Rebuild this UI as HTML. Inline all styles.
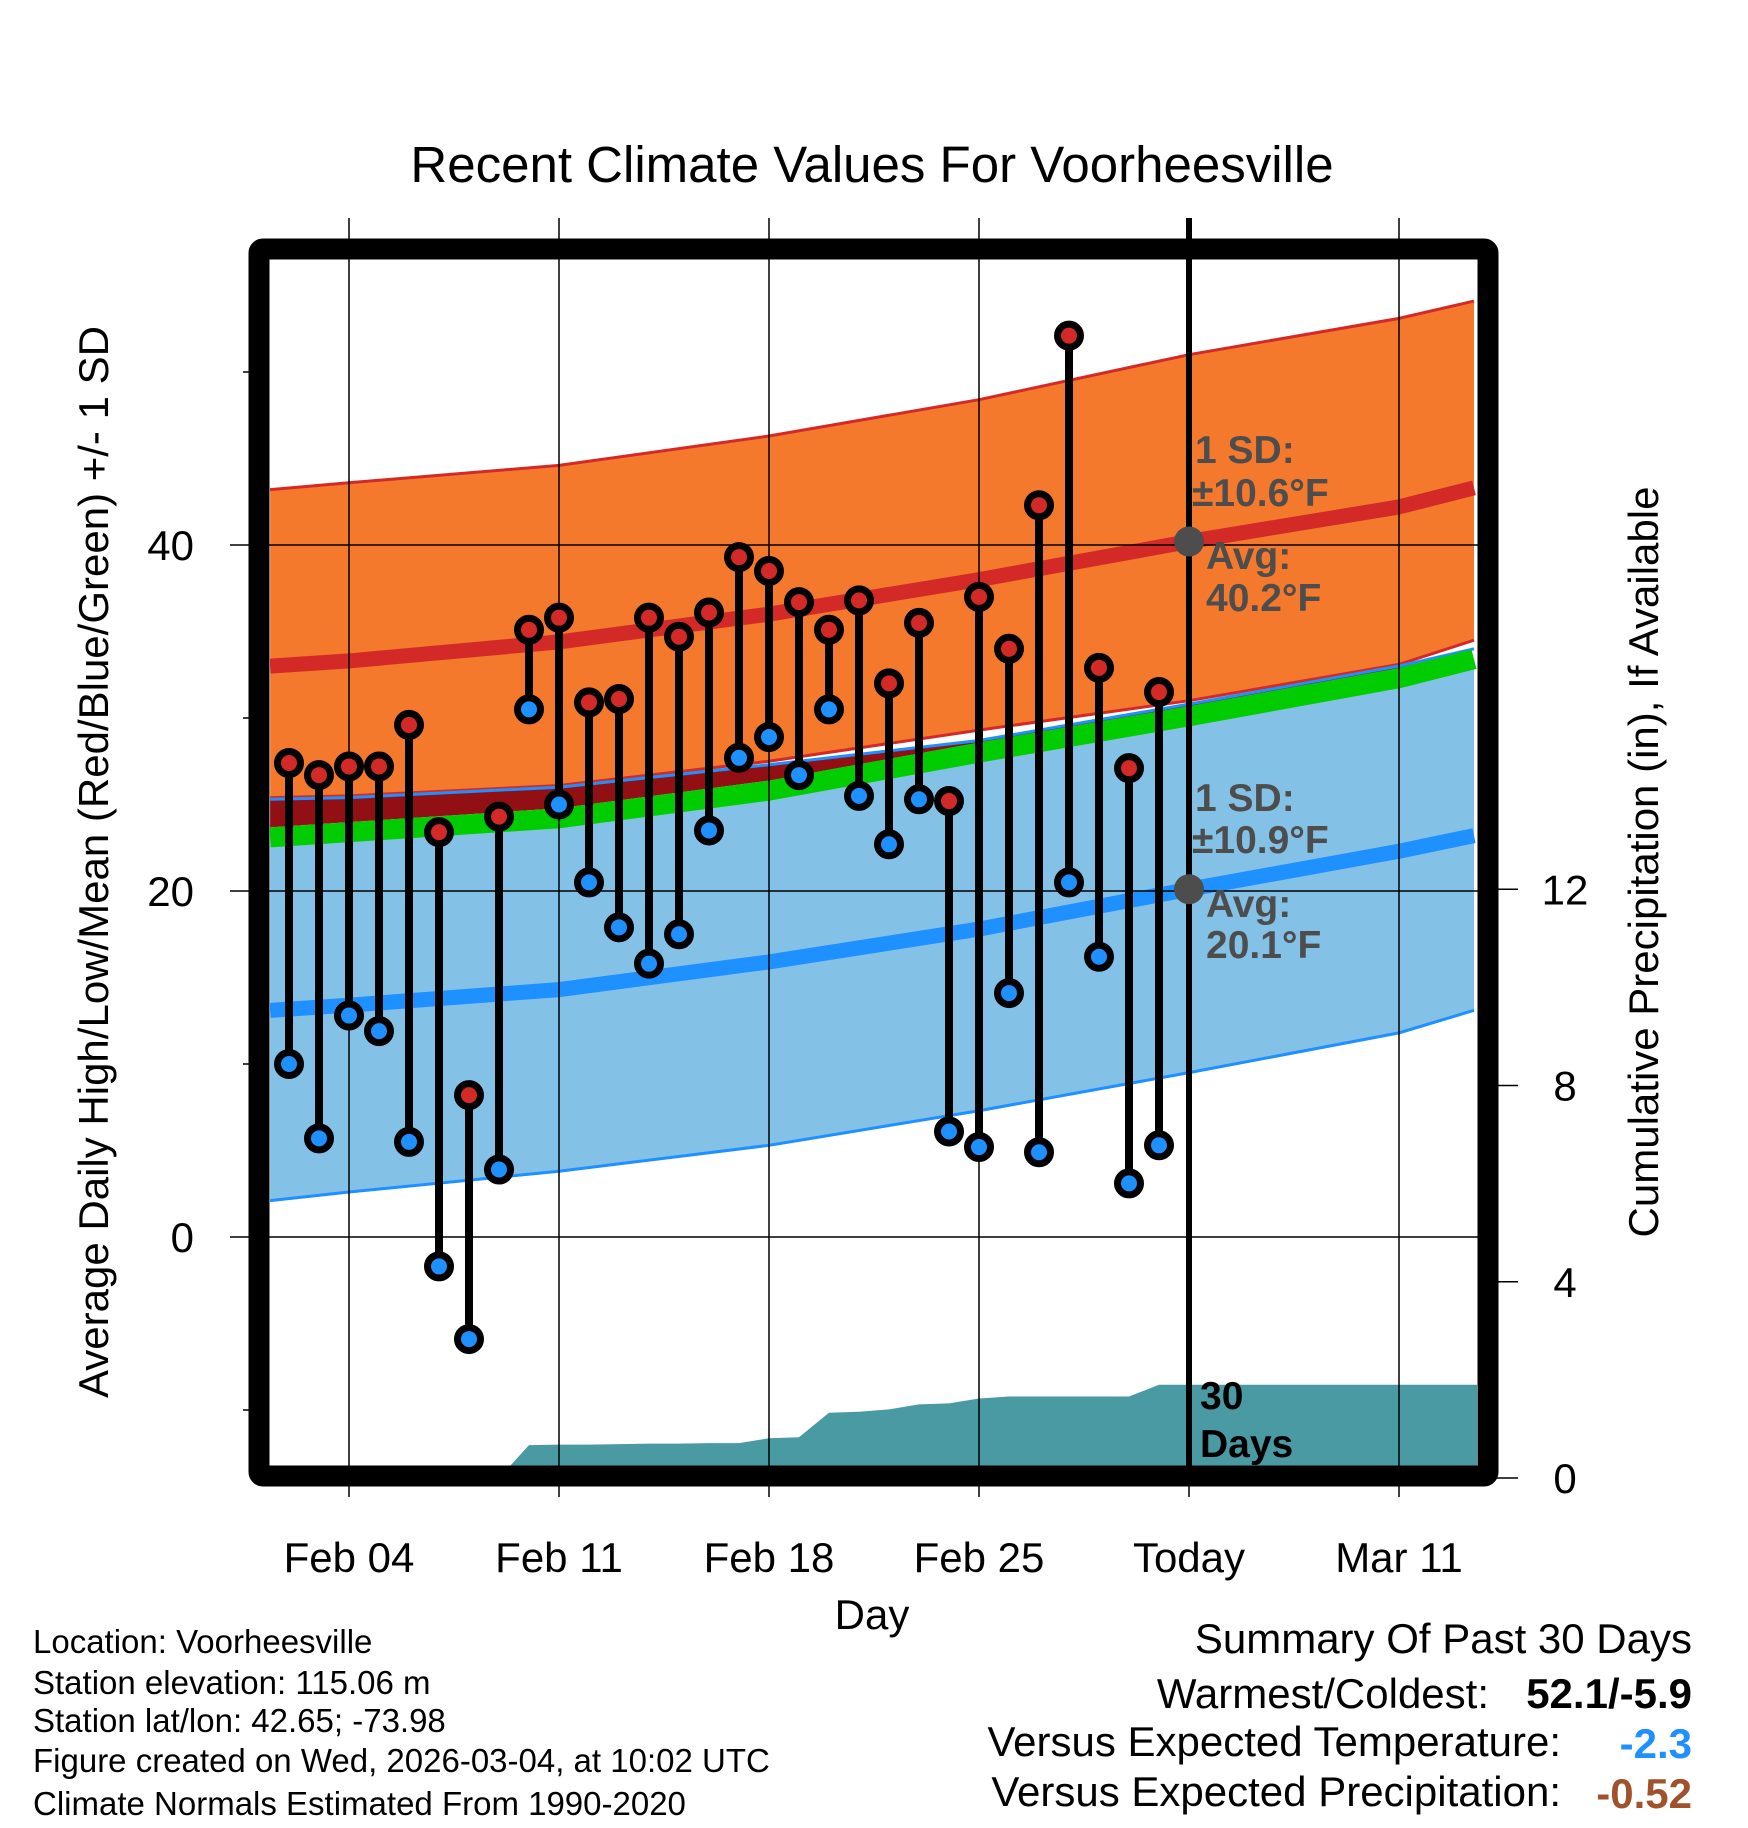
<!DOCTYPE html>
<html><head><meta charset="utf-8">
<style>
html,body{margin:0;padding:0;background:#fff;}
svg{display:block;font-family:"Liberation Sans",Arial,sans-serif;}
</style></head>
<body>
<svg id="chart" width="1748" height="1828" viewBox="0 0 1748 1828" xmlns="http://www.w3.org/2000/svg">
<defs><clipPath id="plotclip"><rect x="270" y="260" width="1208" height="1206"/></clipPath></defs>
<text x="872" y="182" font-size="51" text-anchor="middle">Recent Climate Values For Voorheesville</text>
<g id="plot" clip-path="url(#plotclip)"></g>
<g id="axes"></g>
<rect x="259" y="249" width="1229" height="1227" fill="none" stroke="#000" stroke-width="21" rx="4"/>
<text x="872" y="1629" font-size="42" text-anchor="middle">Day</text>
<text transform="translate(108,862) rotate(-90)" font-size="42" text-anchor="middle">Average Daily High/Low/Mean (Red/Blue/Green) +/- 1 SD</text>
<text transform="translate(1658,862) rotate(-90)" font-size="42" text-anchor="middle">Cumulative Precipitation (in), If Available</text>
<g font-size="33">
<text x="33" y="1653">Location: Voorheesville</text>
<text x="33" y="1694">Station elevation: 115.06 m</text>
<text x="33" y="1732">Station lat/lon: 42.65; -73.98</text>
<text x="33" y="1772">Figure created on Wed, 2026-03-04, at 10:02 UTC</text>
<text x="33" y="1815">Climate Normals Estimated From 1990-2020</text>
</g>
<g font-size="42">
<text x="1692" y="1653" text-anchor="end">Summary Of Past 30 Days</text>
<text x="1489" y="1708" text-anchor="end">Warmest/Coldest:</text>
<text x="1692" y="1708" text-anchor="end" font-weight="bold">52.1/-5.9</text>
<text x="1561" y="1756" text-anchor="end">Versus Expected Temperature:</text>
<text x="1692" y="1758" text-anchor="end" font-weight="bold" fill="#1e90ff">-2.3</text>
<text x="1561" y="1806" text-anchor="end">Versus Expected Precipitation:</text>
<text x="1692" y="1808" text-anchor="end" font-weight="bold" fill="#a0522d">-0.52</text>
</g>
</svg>
<script>
// Data (day offset relative to Feb 04)
const dayOffsets = [-2,-1,0,1,2,3,4,5,6,7,8,9,10,11,12,13,14,15,16,17,18,19,20,21,22,23,24,25,26,27];
const highs = [27.4,26.7,27.2,27.2,29.6,23.4,8.2,24.3,35.1,35.8,30.9,31.1,35.8,34.7,36.1,39.3,38.5,36.7,35.1,36.8,32.0,35.5,25.2,37.0,34.0,42.3,52.1,32.9,27.1,31.5];
const lows = [10.0,5.7,12.8,11.9,5.5,-1.7,-5.9,3.9,30.5,25.0,20.5,17.9,15.8,17.5,23.5,27.7,28.9,26.7,30.5,25.5,22.7,25.3,6.1,5.2,14.1,4.9,20.5,16.2,3.1,5.3];
const precip = [0,0,0,0,0,0,0,0,0.67,0.68,0.68,0.69,0.70,0.70,0.71,0.71,0.81,0.83,1.33,1.35,1.40,1.50,1.52,1.62,1.66,1.66,1.66,1.66,1.66,1.90];
const normDays = [-2.63,0,7,14,21,28,35,37.5];
const highUpper = [43.2,43.6,44.6,46.3,48.4,51.0,53.1,54.1];
const highMean = [33.0,33.3,34.4,36.0,38.0,40.2,42.2,43.3];
const highLower = [25.4,25.5,26.1,27.5,29.3,31.0,33.1,34.5];
const meanAvg = [23.1,23.4,24.2,25.8,28.0,30.1,32.3,33.4];
const lowUpper = [25.3,25.4,26.0,27.3,28.7,30.8,33.0,34.0];
const lowMean = [13.1,13.4,14.3,15.9,17.8,20.1,22.3,23.2];
const lowLower = [2.1,2.6,3.8,5.3,7.3,9.5,11.8,13.1];
const xTickDays = [0,7,14,21,28,35];
const xTickLabels = ["Feb 04","Feb 11","Feb 18","Feb 25","Today","Mar 11"];
const yTicks = [0,20,40];
const yMinor = [-10,10,30,50];
const y2Ticks = [0,4,8,12];
const todayDay = 28;
const todayHigh = 40.2, todayLow = 20.1;

const NS = "http://www.w3.org/2000/svg";
const X = d => 349 + d*30;
const Y = t => 1237 - t*17.3;
const YP = p => 1478 - p*49.06;
const GH = 0.58;
const plot = document.getElementById('plot');
const axes = document.getElementById('axes');
function mk(tag, attrs, parent){const e=document.createElementNS(NS,tag);for(const k in attrs)e.setAttribute(k,attrs[k]);parent.appendChild(e);return e;}
function band(lo, hi, loOff, hiOff){loOff=loOff||0;hiOff=hiOff||0;let pts=[];normDays.forEach((d,i)=>pts.push(X(d)+","+Y(hi[i]+hiOff)));for(let i=normDays.length-1;i>=0;i--)pts.push(X(normDays[i])+","+Y(lo[i]+loOff));return pts.join(" ");}
function line(arr){return normDays.map((d,i)=>X(d)+","+Y(arr[i])).join(" ");}

let e = mk('polygon',{points:band(lowLower,meanAvg),fill:'#84c1e7'},plot);
 
e = mk('polygon',{points:band(meanAvg,lowUpper,GH,0),fill:'#920f14'},plot);
 
e = mk('polygon',{points:band(highLower,highUpper),fill:'#f4792d'},plot);
 
e = mk('polyline',{points:line(highUpper),fill:'none',stroke:'#d42a27','stroke-width':3},plot);
 
e = mk('polyline',{points:line(highLower),fill:'none',stroke:'#d42a27','stroke-width':3},plot);
 
e = mk('polyline',{points:line(lowUpper),fill:'none',stroke:'#1e90ff','stroke-width':3},plot);
 
e = mk('polyline',{points:line(lowLower),fill:'none',stroke:'#1e90ff','stroke-width':3},plot);
 
e = mk('polyline',{points:line(meanAvg),fill:'none',stroke:'#00cc00','stroke-width':20},plot);
 
e = mk('polyline',{points:line(highMean),fill:'none',stroke:'#d42a27','stroke-width':15},plot);
 
e = mk('polyline',{points:line(lowMean),fill:'none',stroke:'#1e90ff','stroke-width':15},plot);
 

let pp = [X(dayOffsets[0])+","+YP(0)];
dayOffsets.forEach((d,i)=>pp.push(X(d)+","+YP(precip[i])));
pp.push(X(37.6)+","+YP(precip[precip.length-1]));
pp.push(X(37.6)+","+YP(0));
e = mk('polygon',{points:pp.join(" "),fill:'#4a9aa3'},plot);
 

xTickDays.forEach((d,i)=>{
  const g = mk('line',{x1:X(d),x2:X(d),y1:218,y2:1497,stroke:'#000','stroke-width':1.5},axes);
   
  const t = mk('text',{x:X(d),y:1572,'font-size':42,'text-anchor':'middle'},axes);
  t.textContent = xTickLabels[i];
   
});
yTicks.forEach(v=>{
  const g = mk('line',{x1:230,x2:1478,y1:Y(v),y2:Y(v),stroke:'#000','stroke-width':1.5},axes);
   
  const t = mk('text',{x:194,y:Y(v)+15,'font-size':42,'text-anchor':'end'},axes);
  t.textContent = v;
   
});
yMinor.forEach(v=>{
  const g = mk('line',{x1:243,x2:260,y1:Y(v),y2:Y(v),stroke:'#000','stroke-width':1.5},axes);
   
});
y2Ticks.forEach(v=>{
  const g = mk('line',{x1:1488,x2:1518,y1:YP(v),y2:YP(v),stroke:'#000','stroke-width':1.5},axes);
   
  const t = mk('text',{x:1565,y:YP(v)+15,'font-size':42,'text-anchor':'middle'},axes);
  t.textContent = v;
   
});
e = mk('line',{x1:X(todayDay),x2:X(todayDay),y1:218,y2:1468,stroke:'#000','stroke-width':6},axes);
 

dayOffsets.forEach((d,i)=>{
  const s = mk('line',{x1:X(d),x2:X(d),y1:Y(highs[i]),y2:Y(lows[i]),stroke:'#000','stroke-width':8},axes);
   
});
dayOffsets.forEach((d,i)=>{
  const h = mk('circle',{cx:X(d),cy:Y(highs[i]),r:11.5,fill:'#d42a27',stroke:'#000','stroke-width':7},axes);
   
  const l = mk('circle',{cx:X(d),cy:Y(lows[i]),r:11.5,fill:'#1e90ff',stroke:'#000','stroke-width':7},axes);
   
});
[todayHigh,todayLow].forEach(v=>{
  const c = mk('circle',{cx:X(todayDay),cy:Y(v),r:15,fill:'#4d4d4d'},axes);
   
});
const ann = [["1 SD:",1195,463],["\u00b110.6\u00b0F",1192,506],["Avg:",1206,569],["40.2\u00b0F",1206,611],
             ["1 SD:",1195,811],["\u00b110.9\u00b0F",1192,853],["Avg:",1206,917],["20.1\u00b0F",1206,958]];
ann.forEach(a=>{
  const t = mk('text',{x:a[1],y:a[2],'font-size':39,'font-weight':'bold',fill:'#4d4d4d'},axes);
  t.textContent = a[0];
   
});
[["30",1409],["Days",1457]].forEach(a=>{
  const t = mk('text',{x:1200,y:a[1],'font-size':39,'font-weight':'bold',fill:'#000'},axes);
  t.textContent = a[0];
   
});
</script>
</body></html>
